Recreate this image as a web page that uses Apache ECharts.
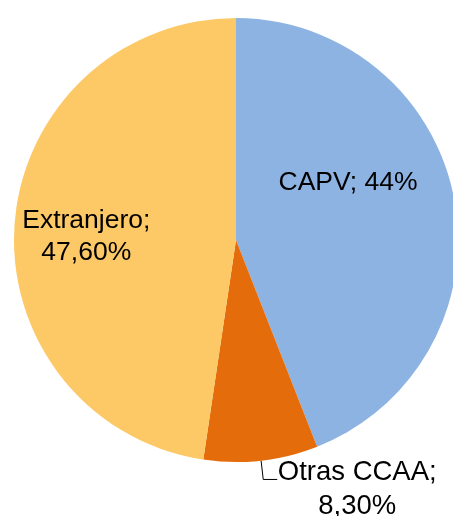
<!DOCTYPE html>
<html>
<head>
<meta charset="utf-8">
<script src="https://cdn.jsdelivr.net/npm/echarts@6/dist/echarts.min.js"></script>
<style>
  html, body { margin: 0; padding: 0; background: #fff; }
  #chart { width: 453px; height: 516px; }
</style>
</head>
<body>
<div id="chart"></div>
<script>
// data
const categories = ['CAPV', 'Otras CCAA', 'Extranjero'];
const values = [44, 8.3, 47.6];
const valueLabels = ['44%', '8,30%', '47,60%'];
const colors = ['#8DB3E2', '#E46C0A', '#FCC966'];

const chart = echarts.init(document.getElementById('chart'), null, { renderer: 'canvas' });

const labelFont = { fontFamily: 'Liberation Sans, Arial, sans-serif', fontSize: 26.5, color: '#000' };

const data = categories.map((name, i) => ({
    name,
    value: values[i],
    itemStyle: { color: colors[i] },
}));

// per-slice label placement
data[0].label = {
    position: 'inside',
    formatter: () => categories[0] + '; ' + valueLabels[0],
    offset: [0, -36],
    ...labelFont,
};
data[1].label = {
    position: 'outside',
    formatter: () => '{a|' + categories[1] + ';}\n{a|' + valueLabels[1] + '}',
    rich: { a: { ...labelFont, fontSize: 27.5, width: 160, align: 'center', lineHeight: 34 } },
    padding: [20, 0, 0, 0],
    distanceToLabelLine: 0,
};
data[1].labelLine = {
    show: true,
    length: 19,
    length2: 14,
    lineStyle: { color: '#000', width: 1 },
};
data[2].label = {
    position: 'inside',
    formatter: () => categories[2] + ';\n' + valueLabels[2],
    offset: [-36, 5],
    lineHeight: 32,
    ...labelFont,
};

chart.setOption({
    backgroundColor: '#fff',
    animation: false,
    series: [{
        type: 'pie',
        center: [236, 240],
        radius: 222,
        startAngle: 90,
        clockwise: true,
        avoidLabelOverlap: false,
        label: { show: true },
        labelLine: { show: false },
        itemStyle: { borderWidth: 0 },
        emphasis: { disabled: true },
        data,
    }],
});
</script>
</body>
</html>
